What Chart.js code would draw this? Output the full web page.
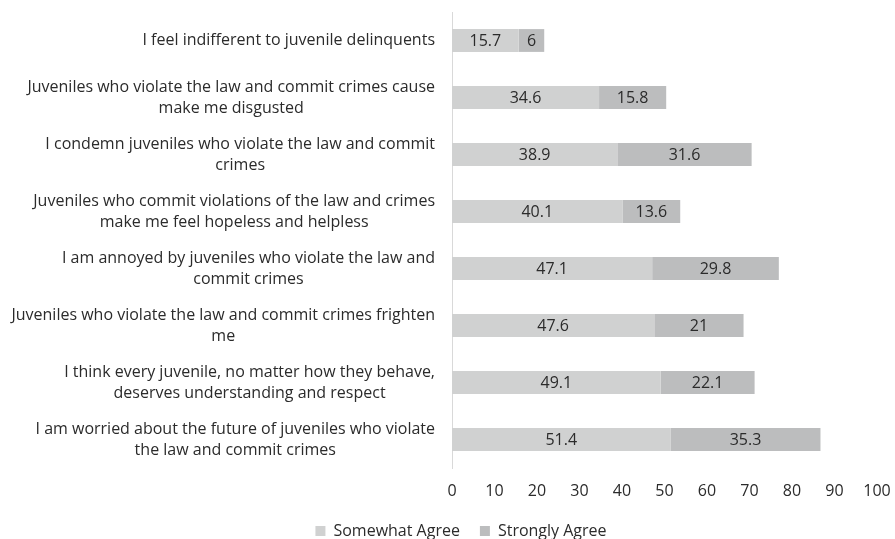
<!DOCTYPE html>
<html>
<head>
<meta charset="utf-8">
<script src="https://cdn.jsdelivr.net/npm/chart.js@4.4.0/dist/chart.umd.min.js"></script>
<style>
  html, body { margin: 0; padding: 0; background: #ffffff; }
  #wrap { width: 895px; height: 539px; position: relative; }
</style>
</head>
<body>
<div id="wrap"><canvas id="chart"></canvas></div>
<script>
// Survey statements (multi-line labels), top to bottom
const statements = [
  ["I feel indifferent to juvenile delinquents"],
  ["Juveniles who violate the law and commit crimes cause", "make me disgusted"],
  ["I condemn juveniles who violate the law and commit", "crimes"],
  ["Juveniles who commit violations of the law and crimes", "make me feel hopeless and helpless"],
  ["I am annoyed by juveniles who violate the law and", "commit crimes"],
  ["Juveniles who violate the law and commit crimes frighten", "me"],
  ["I think every juvenile, no matter how they behave,", "deserves understanding and respect"],
  ["I am worried about the future of juveniles who violate", "the law and commit crimes"]
];
const somewhatAgree = [15.7, 34.6, 38.9, 40.1, 47.1, 47.6, 49.1, 51.4];
const stronglyAgree = [6, 15.8, 31.6, 13.6, 29.8, 21, 22.1, 35.3];
const seriesNames = ["Somewhat Agree", "Strongly Agree"];
const xTicks = [0, 10, 20, 30, 40, 50, 60, 70, 80, 90, 100];

const FONT = "'Open Sans', sans-serif";
const SIZE = 16;
const TEXT = "#2b2b2b";

// Value labels centred inside each bar segment
const barValues = {
  id: 'barValues',
  afterDatasetsDraw(chart) {
    const ctx = chart.ctx;
    ctx.save();
    ctx.font = SIZE + "px " + FONT;
    ctx.fillStyle = TEXT;
    ctx.textAlign = 'center';
    ctx.textBaseline = 'middle';
    chart.data.datasets.forEach((ds, di) => {
      chart.getDatasetMeta(di).data.forEach((el, i) => {
        ctx.fillText(String(ds.data[i]), (el.x + el.base) / 2, el.y + 1);
      });
    });
    ctx.restore();
  }
};

// Category labels: block right-aligned to the axis, lines centred within the block
const categoryLabels = {
  id: 'categoryLabels',
  afterDraw(chart) {
    const ctx = chart.ctx;
    const y = chart.scales.y;
    const lineH = 21;
    const right = y.right - 17;
    ctx.save();
    ctx.font = SIZE + "px " + FONT;
    ctx.fillStyle = TEXT;
    ctx.textAlign = 'center';
    ctx.textBaseline = 'middle';
    statements.forEach((lines, i) => {
      const cy = y.getPixelForValue(i);
      const w = Math.max(...lines.map(l => ctx.measureText(l).width));
      const cx = right - w / 2;
      const y0 = cy - (lines.length - 1) * lineH / 2;
      lines.forEach((l, k) => ctx.fillText(l, cx, y0 + k * lineH));
    });
    ctx.restore();
  }
};

new Chart(document.getElementById('chart'), {
  type: 'bar',
  data: {
    labels: statements.map(s => s.join(' ')),
    datasets: [
      { label: seriesNames[0], data: somewhatAgree, backgroundColor: '#d0d1d1' },
      { label: seriesNames[1], data: stronglyAgree, backgroundColor: '#bcbdbe' }
    ]
  },
  options: {
    indexAxis: 'y',
    responsive: true,
    maintainAspectRatio: false,
    animation: false,
    categoryPercentage: 1,
    barPercentage: 0.4,
    layout: { padding: { left: 30, right: 3, top: 12, bottom: 0 } },
    scales: {
      x: {
        stacked: true,
        min: 0, max: 100,
        afterBuildTicks(axis) { axis.ticks = xTicks.map(v => ({ value: v })); },
        afterFit(axis) {
          axis.height = 35;
          axis.paddingLeft = 0;
          axis.paddingRight = 18;
        },
        grid: { display: false, drawTicks: false },
        border: { display: false },
        ticks: { color: TEXT, font: { family: FONT, size: SIZE }, padding: 14, maxRotation: 0 }
      },
      y: {
        stacked: true,
        afterFit(axis) { axis.width = 422; },
        grid: { display: false, drawTicks: false },
        border: { display: true, color: '#d9d9d9', width: 1 },
        ticks: { display: false }
      }
    },
    plugins: {
      legend: {
        position: 'bottom',
        maxHeight: 36,
        labels: {
          color: TEXT,
          font: { family: FONT, size: SIZE },
          boxWidth: 10, boxHeight: 10,
          padding: 20
        }
      },
      tooltip: { enabled: false }
    }
  },
  plugins: [barValues, categoryLabels]
});
</script>
</body>
</html>
